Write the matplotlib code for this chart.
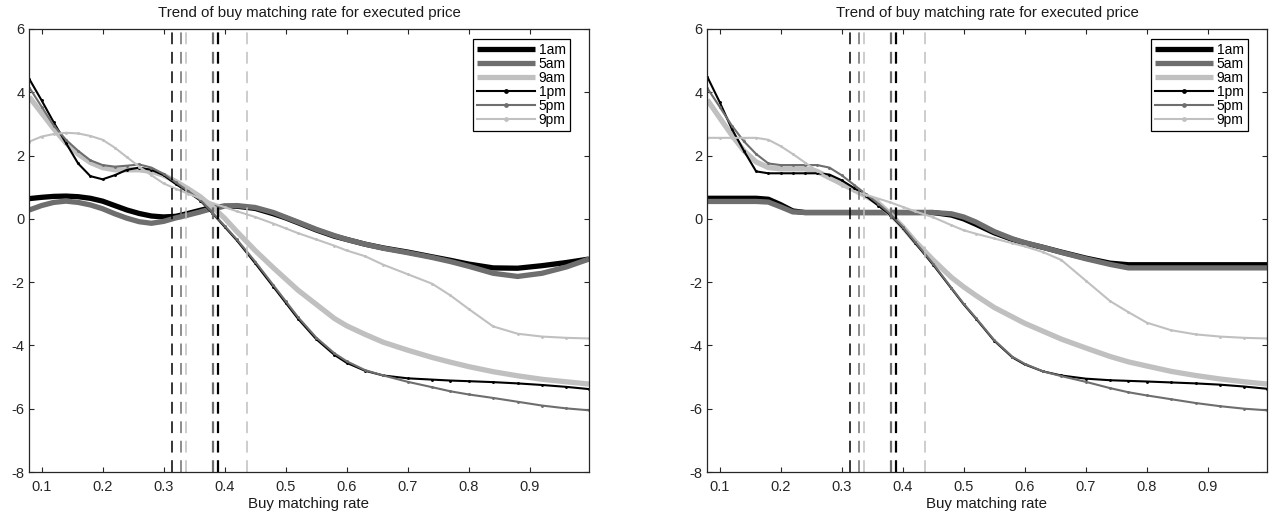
import matplotlib
matplotlib.use("Agg")
import matplotlib.pyplot as plt

plt.rcParams['font.family'] = ['Liberation Sans', 'DejaVu Sans']
plt.rcParams['lines.scale_dashes'] = False

# ---------------- data ----------------
rate = [0.08, 0.10, 0.12, 0.14, 0.16, 0.18, 0.20, 0.22, 0.24, 0.26, 0.28, 0.30,
        0.32, 0.34, 0.36, 0.38, 0.40, 0.42, 0.45, 0.48, 0.50, 0.52, 0.55, 0.58,
        0.60, 0.63, 0.66, 0.70, 0.74, 0.77, 0.80, 0.84, 0.88, 0.92, 0.96, 0.997]

labels = ['1am', '5am', '9am', '1pm', '5pm', '9pm']

# left panel
left_1am = [0.64, 0.68, 0.71, 0.72, 0.70, 0.65, 0.56, 0.42, 0.28, 0.17, 0.09, 0.06,
            0.08, 0.17, 0.27, 0.36, 0.40, 0.40, 0.33, 0.16, 0.03, -0.12, -0.35, -0.55,
            -0.65, -0.80, -0.92, -1.05, -1.20, -1.31, -1.43, -1.55, -1.56, -1.48, -1.38, -1.27]
left_5am = [0.28, 0.42, 0.52, 0.56, 0.52, 0.44, 0.32, 0.16, 0.02, -0.09, -0.14, -0.08,
            0.03, 0.12, 0.22, 0.33, 0.40, 0.42, 0.36, 0.20, 0.05, -0.10, -0.33, -0.53,
            -0.65, -0.80, -0.93, -1.07, -1.22, -1.35, -1.50, -1.72, -1.82, -1.72, -1.52, -1.27]
left_9am = [3.85, 3.35, 2.85, 2.40, 2.05, 1.78, 1.62, 1.55, 1.55, 1.55, 1.50, 1.38,
            1.18, 0.95, 0.70, 0.38, 0.02, -0.40, -1.00, -1.55, -1.90, -2.25, -2.70, -3.15,
            -3.38, -3.65, -3.90, -4.15, -4.38, -4.53, -4.67, -4.83, -4.96, -5.07, -5.15, -5.22]
left_1pm = [4.42, 3.75, 3.05, 2.40, 1.75, 1.35, 1.25, 1.38, 1.55, 1.62, 1.55, 1.38,
            1.10, 0.85, 0.58, 0.18, -0.25, -0.68, -1.40, -2.15, -2.65, -3.15, -3.80, -4.30,
            -4.55, -4.80, -4.95, -5.04, -5.08, -5.11, -5.13, -5.16, -5.20, -5.25, -5.31, -5.38]
left_5pm = [4.15, 3.55, 2.95, 2.50, 2.15, 1.85, 1.70, 1.65, 1.68, 1.72, 1.62, 1.42,
            1.15, 0.88, 0.60, 0.20, -0.22, -0.65, -1.35, -2.10, -2.60, -3.10, -3.75, -4.25,
            -4.50, -4.78, -4.95, -5.15, -5.32, -5.45, -5.55, -5.66, -5.78, -5.90, -5.99, -6.05]
left_9pm = [2.44, 2.60, 2.68, 2.72, 2.70, 2.62, 2.50, 2.25, 1.95, 1.65, 1.38, 1.12,
            0.95, 0.80, 0.65, 0.50, 0.37, 0.24, 0.06, -0.15, -0.30, -0.45, -0.65, -0.85,
            -1.00, -1.18, -1.45, -1.75, -2.05, -2.42, -2.85, -3.40, -3.63, -3.72, -3.76, -3.78]

# right panel
right_1am = [0.65, 0.65, 0.65, 0.65, 0.65, 0.62, 0.45, 0.25, 0.20, 0.20, 0.20, 0.20,
             0.20, 0.20, 0.20, 0.20, 0.20, 0.20, 0.20, 0.12, 0.00, -0.17, -0.44, -0.65,
             -0.76, -0.90, -1.05, -1.24, -1.40, -1.45, -1.45, -1.45, -1.45, -1.45, -1.45, -1.45]
right_5am = [0.55, 0.55, 0.55, 0.55, 0.55, 0.53, 0.38, 0.22, 0.20, 0.20, 0.20, 0.20,
             0.20, 0.20, 0.20, 0.20, 0.20, 0.20, 0.20, 0.16, 0.06, -0.10, -0.40, -0.63,
             -0.75, -0.90, -1.06, -1.26, -1.44, -1.55, -1.55, -1.55, -1.55, -1.55, -1.55, -1.55]
right_9am = [3.76, 3.20, 2.65, 2.15, 1.80, 1.62, 1.58, 1.58, 1.58, 1.50, 1.30, 1.12,
             0.92, 0.72, 0.50, 0.15, -0.25, -0.70, -1.30, -1.85, -2.15, -2.42, -2.80, -3.10,
             -3.30, -3.55, -3.80, -4.08, -4.35, -4.52, -4.65, -4.82, -4.95, -5.06, -5.15, -5.22]
right_1pm = [4.49, 3.70, 2.85, 2.15, 1.50, 1.44, 1.44, 1.44, 1.44, 1.44, 1.40, 1.22,
             0.98, 0.72, 0.42, 0.12, -0.28, -0.75, -1.45, -2.20, -2.70, -3.15, -3.85, -4.38,
             -4.60, -4.82, -4.95, -5.05, -5.10, -5.12, -5.14, -5.17, -5.20, -5.24, -5.30, -5.37]
right_5pm = [4.13, 3.55, 2.95, 2.45, 2.05, 1.75, 1.70, 1.70, 1.70, 1.70, 1.62, 1.38,
             1.08, 0.78, 0.48, 0.15, -0.25, -0.72, -1.42, -2.18, -2.68, -3.13, -3.83, -4.36,
             -4.58, -4.82, -4.97, -5.15, -5.35, -5.48, -5.58, -5.70, -5.82, -5.92, -6.00, -6.05]
right_9pm = [2.56, 2.56, 2.56, 2.56, 2.56, 2.50, 2.30, 2.05, 1.78, 1.52, 1.28, 1.05,
             0.88, 0.76, 0.64, 0.52, 0.38, 0.24, 0.05, -0.20, -0.36, -0.47, -0.62, -0.77,
             -0.87, -1.05, -1.30, -1.95, -2.60, -2.95, -3.28, -3.52, -3.65, -3.72, -3.76, -3.78]

# vertical reference lines (shared)
ref_x = [0.3146, 0.3279, 0.3366, 0.3814, 0.3885, 0.4361]

title_text = 'Trend of buy matching rate for executed price'
xlabel_text = 'Buy matching rate'
xticks = [0.1, 0.2, 0.3, 0.4, 0.5, 0.6, 0.7, 0.8, 0.9]
yticks = [-8, -6, -4, -2, 0, 2, 4, 6]

# ---------------- styling ----------------
BLACK = '#000000'
GRAY = '#6e6e6e'
LIGHT = '#c0c0c0'
series_colors = [BLACK, GRAY, LIGHT, BLACK, GRAY, LIGHT]
ref_colors = [BLACK, GRAY, LIGHT, GRAY, BLACK, LIGHT]
ref_widths = [1.1, 1.1, 1.1, 1.6, 1.6, 1.1]

W, H = 1279, 515
fig = plt.figure(figsize=(W / 100, H / 100), dpi=100)

panels = [
    ((29, 589), [left_1am, left_5am, left_9am, left_1pm, left_5pm, left_9pm]),
    ((707, 1267), [right_1am, right_5am, right_9am, right_1pm, right_5pm, right_9pm]),
]
top_px, bot_px = 29, 472

for (x0, x1), series in panels:
    ax = fig.add_axes([x0 / W, 1 - bot_px / H, (x1 - x0) / W, (bot_px - top_px) / H])
    handles = []
    for i, (ys, lab) in enumerate(zip(series, labels)):
        if i < 3:
            h, = ax.plot(rate, ys, color=series_colors[i], lw=3.8, label=lab,
                         solid_joinstyle='round', solid_capstyle='butt')
        else:
            h, = ax.plot(rate, ys, color=series_colors[i], lw=1.5, label=lab,
                         marker='o', markersize=1.1, solid_joinstyle='round')
        handles.append(h)
    for xv, c, w in zip(ref_x, ref_colors, ref_widths):
        ax.axvline(xv, color=c, lw=w, dashes=(8.5, 5.5))
    ax.set_xlim(0.0795, 0.997)
    ax.set_ylim(-8, 6)
    ax.set_xticks(xticks)
    ax.set_xticklabels([f'{t:g}' for t in xticks])
    ax.set_yticks(yticks)
    ax.set_yticklabels([f'{t:g}' for t in yticks])
    ax.tick_params(direction='in', length=3.5, width=0.8, top=True, right=True,
                   labelsize=10.5, colors='#262626', labelcolor='#262626', pad=3)
    ax.tick_params(axis='x', pad=6)
    for s in ax.spines.values():
        s.set_color('#262626')
        s.set_linewidth(0.9)
    ax.set_title(title_text, fontsize=10.8, pad=9, color='#1a1a1a')
    ax.set_xlabel(xlabel_text, fontsize=10.8, labelpad=2, color='#1a1a1a')
    leg = ax.legend(handles=handles, loc='upper right',
                    bbox_to_anchor=((570 - x0) / (x1 - x0) if x0 < 600 else (1248 - x0) / (x1 - x0),
                                    (bot_px - 39) / (bot_px - top_px)),
                    fontsize=10, frameon=True,
                    fancybox=False, edgecolor='#000000', framealpha=1,
                    handlelength=4.2, handletextpad=0.25, labelspacing=0.0,
                    borderpad=0.3, borderaxespad=0.0, numpoints=1, markerscale=2.2)
    leg.get_frame().set_linewidth(0.9)

fig.savefig('out.png', dpi=100)
